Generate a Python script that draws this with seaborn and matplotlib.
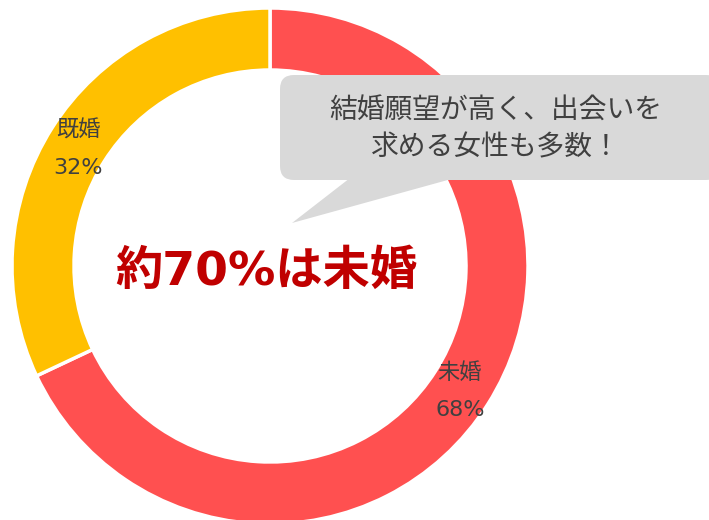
import matplotlib
matplotlib.use("Agg")
import matplotlib.pyplot as plt
import seaborn as sns
from matplotlib.patches import FancyBboxPatch, Polygon

sns.set_theme(style="white")
# wide latin glyphs from DejaVu, kana/kanji from Noto CJK
plt.rcParams['font.family'] = ['DejaVu Sans', 'Noto Sans CJK JP']

# data
categories = ["未婚", "既婚"]
shares = [68, 32]
colors = ["#FF5050", "#FFC000"]
headline = "約70%は未婚"
bubble_text = "結婚願望が高く、出会いを\n求める女性も多数！"

W, H = 709, 520
fig = plt.figure(figsize=(W / 100, H / 100), dpi=100)
ax = fig.add_axes([0, 0, 1, 1])

cx, cy = 270, H - 266
r_out = 258
ax.pie(shares, colors=colors, startangle=90, counterclock=False,
       center=(cx, cy), radius=r_out, frame=True,
       wedgeprops=dict(width=62, edgecolor="white", linewidth=2.5))

ax.set_xlim(0, W)
ax.set_ylim(0, H)
ax.set_aspect("equal")
ax.axis("off")

# slice labels
label_pos = {"未婚": (460, 373, 410), "既婚": (78, 130, 168)}
for cat, val in zip(categories, shares):
    x, y1, y2 = label_pos[cat]
    ax.text(x, H - y1, cat, ha="center", va="center", fontsize=16, color="#404040")
    ax.text(x, H - y2, f"{val}%", ha="center", va="center", fontsize=16, color="#404040")

# centre headline
ax.text(266, H - 272, headline, ha="center", va="center", fontsize=34,
        fontweight="bold", color="#C00000")

# speech bubble
bubble = FancyBboxPatch((280, H - 180), 440, 105,
                        boxstyle="round,pad=0,rounding_size=14",
                        facecolor="#D9D9D9", edgecolor="none", zorder=3)
ax.add_patch(bubble)
tail = Polygon([(350, H - 178), (292, H - 223), (455, H - 178)],
               closed=True, facecolor="#D9D9D9", edgecolor="none", zorder=3)
ax.add_patch(tail)
ax.text(496, H - 129, bubble_text, ha="center", va="center", fontsize=20,
        color="#404040", linespacing=1.4, zorder=4)

fig.savefig("out.png", dpi=100)
